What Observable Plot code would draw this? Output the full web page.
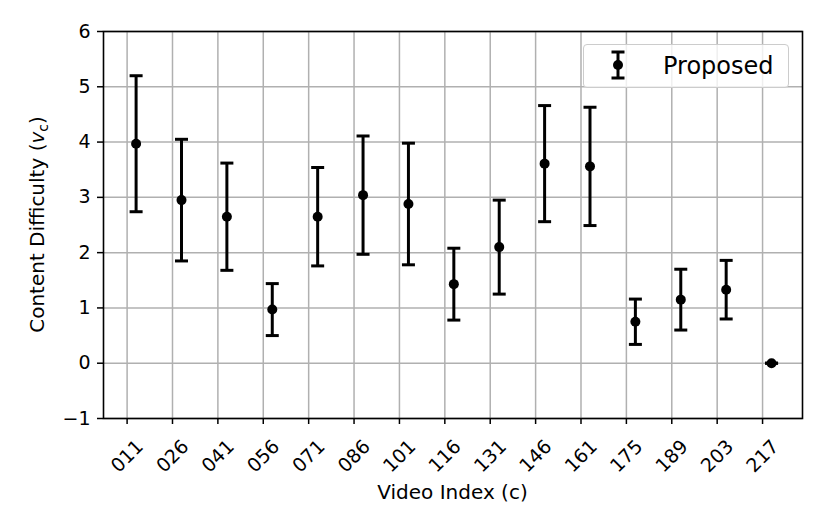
<!DOCTYPE html>
<html>
<head>
<meta charset="utf-8">
<script src="https://cdn.jsdelivr.net/npm/d3@7"></script>
<script src="https://cdn.jsdelivr.net/npm/@observablehq/plot@0.6"></script>
<style>
  html, body { margin: 0; padding: 0; background: #fff; }
  #wrap { position: relative; width: 830px; height: 529px; font-family: "DejaVu Sans", sans-serif; }
  #legend { position: absolute; left: 583px; top: 44px; width: 206px; height: 44px; box-sizing: border-box;
    border: 1px solid #cccccc; border-radius: 4px; background: rgba(255,255,255,0.8); }
  #legend svg { position: absolute; left: 0; top: 0; }
</style>
</head>
<body>
<div id="wrap"></div>
<script>
const labels = ["011","026","041","056","071","086","101","116","131","146","161","175","189","203","217"];
const means  = [3.97, 2.95, 2.65, 0.97, 2.65, 3.04, 2.88, 1.43, 2.10, 3.61, 3.56, 0.75, 1.15, 1.33, 0.00];
const errs   = [1.23, 1.10, 0.97, 0.47, 0.89, 1.07, 1.10, 0.65, 0.85, 1.05, 1.07, 0.41, 0.55, 0.53, 0.00];
const yTicks = [-1, 0, 1, 2, 3, 4, 5, 6];
const seriesName = "Proposed";

const data = labels.map((c, i) => ({i, c, mean: means[i], lo: means[i] - errs[i], hi: means[i] + errs[i]}));
const idx = labels.map((_, i) => i);

const capSymbol = {
  draw(ctx, size) {
    const w = Math.sqrt(size / Math.PI);
    ctx.moveTo(-w, 0);
    ctx.lineTo(w, 0);
  }
};

const font = "DejaVu Sans";
const offset = 9;

const chart = Plot.plot({
  width: 830,
  height: 529,
  marginLeft: 103,
  marginRight: 28,
  marginTop: 31,
  marginBottom: 111,
  style: {fontFamily: font, fontSize: "19px", color: "black", background: "white"},
  x: {type: "linear", domain: [-0.52, 14.88]},
  y: {type: "linear", domain: [-1, 6]},
  marks: [
    Plot.gridX(idx, {stroke: "#b0b0b0", strokeOpacity: 1, strokeWidth: 1.5}),
    Plot.gridY(yTicks, {stroke: "#b0b0b0", strokeOpacity: 1, strokeWidth: 1.5}),
    Plot.axisY({ticks: yTicks, tickSize: 6, tickPadding: 7, strokeWidth: 1.5,
      tickFormat: d => d < 0 ? `\u2212${-d}` : `${d}`, label: null, fontSize: 19}),
    Plot.axisX({ticks: idx, tickSize: 6, strokeWidth: 1.5, tickFormat: () => "", label: null}),
    Plot.text(idx, {x: d => d, text: d => labels[d], frameAnchor: "bottom", rotate: -45,
      textAnchor: "end", lineAnchor: "middle", dx: 13, dy: 25, fontSize: 19, fill: "black"}),
    Plot.ruleX(data, {x: "i", y1: "lo", y2: "hi", dx: offset, stroke: "black", strokeWidth: 3}),
    Plot.dot(data, {x: "i", y: "lo", dx: offset, symbol: capSymbol, r: 6.5, stroke: "black", strokeWidth: 3, fill: "none"}),
    Plot.dot(data, {x: "i", y: "hi", dx: offset, symbol: capSymbol, r: 6.5, stroke: "black", strokeWidth: 3, fill: "none"}),
    Plot.dot(data, {x: "i", y: "mean", dx: offset, r: 5, fill: "black", stroke: "none"}),
    Plot.frame({stroke: "black", strokeWidth: 1.6})
  ]
});

const wrap = document.getElementById("wrap");
wrap.appendChild(chart);

const svg = d3.select(chart);
// y-axis label with italic v and subscript c
const yl = svg.append("text")
  .attr("transform", "translate(44,224.5) rotate(-90)")
  .attr("text-anchor", "middle")
  .attr("font-family", font)
  .attr("font-size", 20)
  .attr("fill", "black");
yl.append("tspan").text("Content Difficulty (");
yl.append("tspan").attr("font-style", "italic").text("v");
yl.append("tspan").attr("font-size", 14).attr("dy", 4).text("c");
yl.append("tspan").attr("dy", -4).text(")");

// x-axis label
svg.append("text")
  .attr("x", 452.5).attr("y", 499)
  .attr("text-anchor", "middle")
  .attr("font-family", font)
  .attr("font-size", 20)
  .attr("fill", "black")
  .text("Video Index (c)");

// legend
const legend = document.createElement("div");
legend.id = "legend";
legend.innerHTML = `<svg width="206" height="44" xmlns="http://www.w3.org/2000/svg">
  <line x1="34" x2="34" y1="7" y2="33" stroke="black" stroke-width="3"/>
  <line x1="27.5" x2="40.5" y1="7" y2="7" stroke="black" stroke-width="3"/>
  <line x1="27.5" x2="40.5" y1="33" y2="33" stroke="black" stroke-width="3"/>
  <circle cx="34" cy="20" r="5" fill="black"/>
  <text x="79" y="29" font-family="DejaVu Sans" font-size="24" fill="black">${seriesName}</text>
</svg>`;
wrap.appendChild(legend);
</script>
</body>
</html>
